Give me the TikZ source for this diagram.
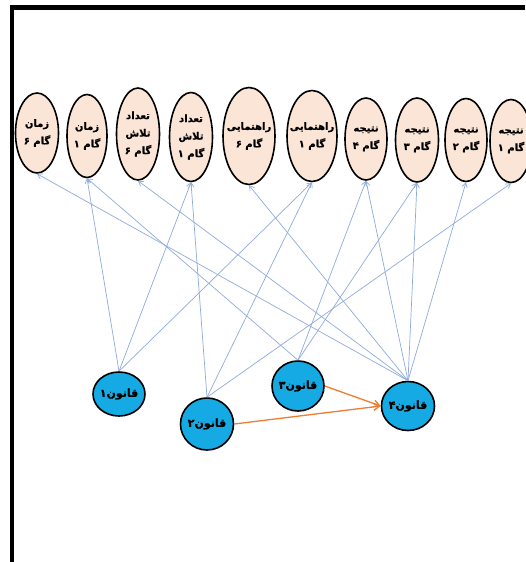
\documentclass[tikz,border=0pt]{standalone}
\usepackage{fontspec}
\usetikzlibrary{shapes.geometric,arrows.meta}
\TeXXeTstate=1
\newfontfamily\farsi[Script=Arabic,BoldFeatures={FakeBold=0.8}]{DejaVu Sans}
\newcommand{\fa}[1]{\beginR #1\endR}
\definecolor{peach}{RGB}{251,229,214}
\definecolor{lawblue}{RGB}{22,170,228}
\definecolor{linkblue}{RGB}{143,170,220}
\definecolor{pushorange}{RGB}{237,125,49}
\begin{document}
\begin{tikzpicture}[x=1pt,y=-1pt,
			factor/.style = {draw, ellipse, line width=1.6pt, fill=peach, inner sep=-6pt, align=center,
				font=\farsi\bfseries\fontsize{10}{17.5}\selectfont},
			law/.style = {draw, ellipse, line width=1.6pt, fill=lawblue, inner sep=-2pt,
				font=\farsi\bfseries\fontsize{11}{12}\selectfont},
			link/.style = {draw=linkblue, line width=0.7pt, -{Straight Barb[length=4.5pt,width=5.5pt]}},
			push/.style = {draw=pushorange, line width=1.3pt, -{Straight Barb[length=6pt,width=7pt]}},
			]
			\useasboundingbox (0,0) rectangle (525,562);
			\draw[line width=4.5pt] (12,562) -- (12,7.5) -- (525,7.5);

			\node[factor, minimum width=43pt, minimum height=80pt] (time6) at (37,133) {\fa{زمان}\\\fa{گام ۶}};
			\node[factor, minimum width=40pt, minimum height=83pt] (time1) at (87,136) {\fa{زمان}\\\fa{گام ۱}};
			\node[factor, minimum width=43pt, minimum height=92pt] (tries6) at (138,134) {\fa{تعداد}\\\fa{تلاش}\\\fa{گام ۶}};
			\node[factor, minimum width=43pt, minimum height=89pt] (tries1) at (191,137) {\fa{تعداد}\\\fa{تلاش}\\\fa{گام ۱}};
			\node[factor, minimum width=52pt, minimum height=97pt] (guide6) at (249,136) {\fa{راهنمایی}\\\fa{گام ۶}};
			\node[factor, minimum width=50pt, minimum height=91pt] (guide1) at (312,136) {\fa{راهنمایی}\\\fa{گام ۱}};
			\node[factor, minimum width=42pt, minimum height=82pt] (result4) at (366,139) {\fa{نتیجه}\\\fa{گام ۴}};
			\node[factor, minimum width=43pt, minimum height=84pt] (result3) at (417,140) {\fa{نتیجه}\\\fa{گام ۳}};
			\node[factor, minimum width=42pt, minimum height=83pt] (result2) at (466,140) {\fa{نتیجه}\\\fa{گام ۲}};
			\node[factor, minimum width=42pt, minimum height=83pt] (result1) at (511,141) {\fa{نتیجه}\\\fa{گام ۱}};

			\node[law, minimum width=52pt, minimum height=44pt] (law1) at (119,394) {\fa{قانون۱}};
			\node[law, minimum width=53pt, minimum height=52pt] (law2) at (207,424) {\fa{قانون۲}};
			\node[law, minimum width=52pt, minimum height=50pt] (law3) at (298,386) {\fa{قانون۳}};
			\node[law, minimum width=53pt, minimum height=49pt] (law4) at (408,406) {\fa{قانون۴}};

			\foreach \from/\to in {law1/time1, law1/tries1, law1/guide1,
				law2/tries1, law2/guide1, law2/result1,
				law3/time1, law3/result4, law3/result3,
				law4/time6, law4/tries6, law4/guide6, law4/result4, law4/result3, law4/result2}
				\draw[link] (\from.north) -- (\to.south);

			\draw[push] (law3.east) -- (law4.west);
			\draw[push] (law2.east) -- (law4.west);
		\end{tikzpicture}
\end{document}
